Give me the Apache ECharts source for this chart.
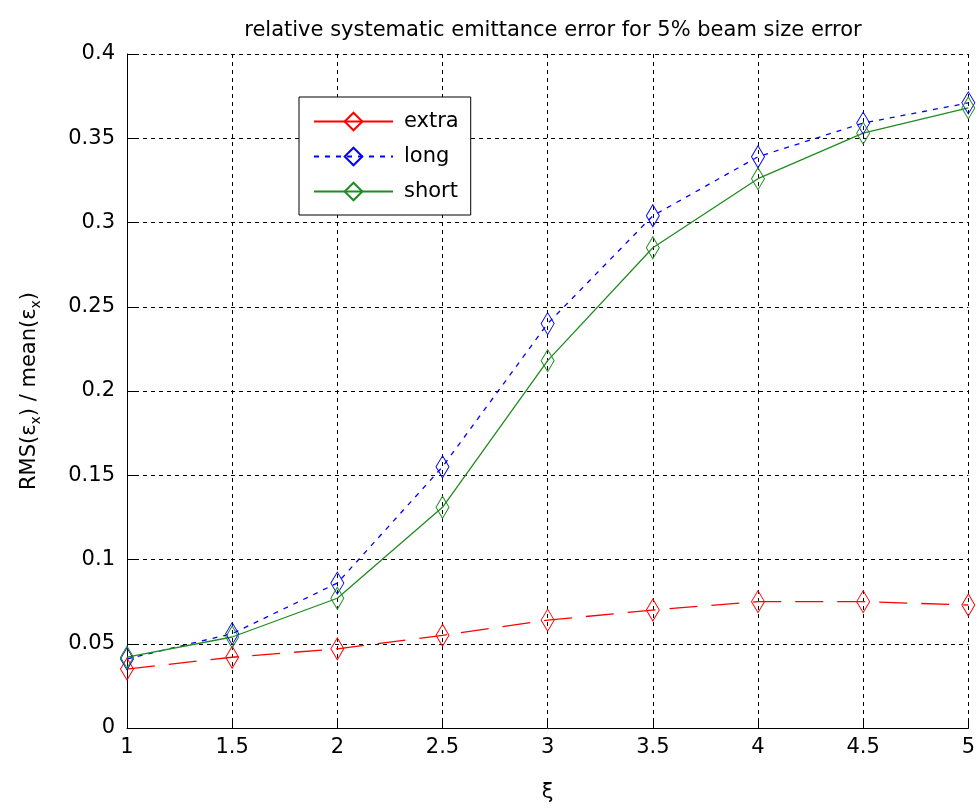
<!DOCTYPE html>
<html>
<head>
<meta charset="utf-8">
<script src="https://cdn.jsdelivr.net/npm/echarts@6/dist/echarts.min.js"></script>
<style>
html,body{margin:0;padding:0;background:#fff;}
#chart{width:978px;height:808px;}
</style>
</head>
<body>
<div id="chart"></div>
<script>
// xi values (x axis)
var xi = [1, 1.5, 2, 2.5, 3, 3.5, 4, 4.5, 5];
// series
var extra = [0.035, 0.042, 0.047, 0.055, 0.064, 0.070, 0.075, 0.075, 0.073];
var longS = [0.041, 0.056, 0.086, 0.155, 0.240, 0.304, 0.339, 0.359, 0.371];
var shortS = [0.042, 0.054, 0.077, 0.131, 0.218, 0.285, 0.326, 0.353, 0.368];
var names = ['extra', 'long', 'short'];

var font = 'DejaVu Sans';
var diamond = 'path://M0,-11L6.5,0L0,11L-6.5,0Z';
var green = '#1e8c1e';

function pairs(vals){
	return xi.map(function(x, i){ return [x, vals[i]]; });
}

var chart = echarts.init(document.getElementById('chart'));
var option = {
	animation: false,
	backgroundColor: '#fff',
	textStyle: { fontFamily: font },
	title: {
		text: 'relative systematic emittance error for 5% beam size error',
		left: 548,
		textAlign: 'center',
		top: 15,
		textStyle: { fontFamily: font, fontSize: 21, fontWeight: 'normal', color: '#000' }
	},
	legend: {
		orient: 'vertical',
		left: 299,
		top: 97,
		padding: [14, 12, 13, 14],
		itemGap: 14,
		itemWidth: 79,
		itemHeight: 22,
		backgroundColor: '#fff',
		borderColor: '#000',
		borderWidth: 1,
		textStyle: { fontFamily: font, fontSize: 21, color: '#000', padding: [0, 0, 0, 6] },
		data: [
			{ name: 'extra', lineStyle: { type: 'solid' } },
			{ name: 'long' },
			{ name: 'short' }
		]
	},
	grid: { left: 127, right: 8, top: 54, bottom: 73 },
	xAxis: {
		type: 'value',
		min: 1,
		max: 5,
		interval: 0.5,
		name: 'ξ',
		nameLocation: 'middle',
		nameGap: 54,
		nameTextStyle: { fontFamily: font, fontSize: 21, color: '#000' },
		axisLine: { show: true, onZero: false, lineStyle: { color: '#000', width: 1 } },
		axisTick: { show: true, inside: true, length: 9, lineStyle: { color: '#000' } },
		axisLabel: { fontFamily: font, fontSize: 21, color: '#000', margin: 9 },
		splitLine: { show: true, lineStyle: { color: '#000', type: [4, 4], width: 1 } }
	},
	yAxis: {
		type: 'value',
		min: 0,
		max: 0.4,
		interval: 0.05,
		name: 'RMS(ε{sub|x}) / mean(ε{sub|x})',
		nameLocation: 'middle',
		nameRotate: 90,
		nameGap: 84,
		nameTextStyle: {
			fontFamily: font, fontSize: 21, color: '#000',
			rich: { sub: { fontFamily: font, fontSize: 14, color: '#000', padding: [12, 0, 0, 0] } }
		},
		axisLine: { show: true, lineStyle: { color: '#000', width: 1 } },
		axisTick: { show: true, inside: true, length: 9, lineStyle: { color: '#000' } },
		axisLabel: { fontFamily: font, fontSize: 21, color: '#000', margin: 12 },
		splitLine: { show: true, lineStyle: { color: '#000', type: [4, 4], width: 1 } }
	},
	series: [
		{
			name: names[0], type: 'line', data: pairs(extra),
			symbol: diamond, symbolSize: [13, 22],
			color: '#ff0000',
			itemStyle: { color: 'rgba(255,255,255,0)', borderColor: '#ff0000', borderWidth: 1 },
			lineStyle: { color: '#ff0000', width: 1.3, type: [28, 14] }
		},
		{
			name: names[1], type: 'line', data: pairs(longS),
			symbol: diamond, symbolSize: [13, 22],
			color: '#0000ff',
			itemStyle: { color: 'rgba(255,255,255,0)', borderColor: '#0000ff', borderWidth: 1 },
			lineStyle: { color: '#0000ff', width: 1.3, type: [5, 6] }
		},
		{
			name: names[2], type: 'line', data: pairs(shortS),
			symbol: diamond, symbolSize: [13, 22],
			color: green,
			itemStyle: { color: 'rgba(255,255,255,0)', borderColor: green, borderWidth: 1 },
			lineStyle: { color: green, width: 1.3, type: 'solid' }
		}
	]
};
chart.setOption(option);
</script>
</body>
</html>
